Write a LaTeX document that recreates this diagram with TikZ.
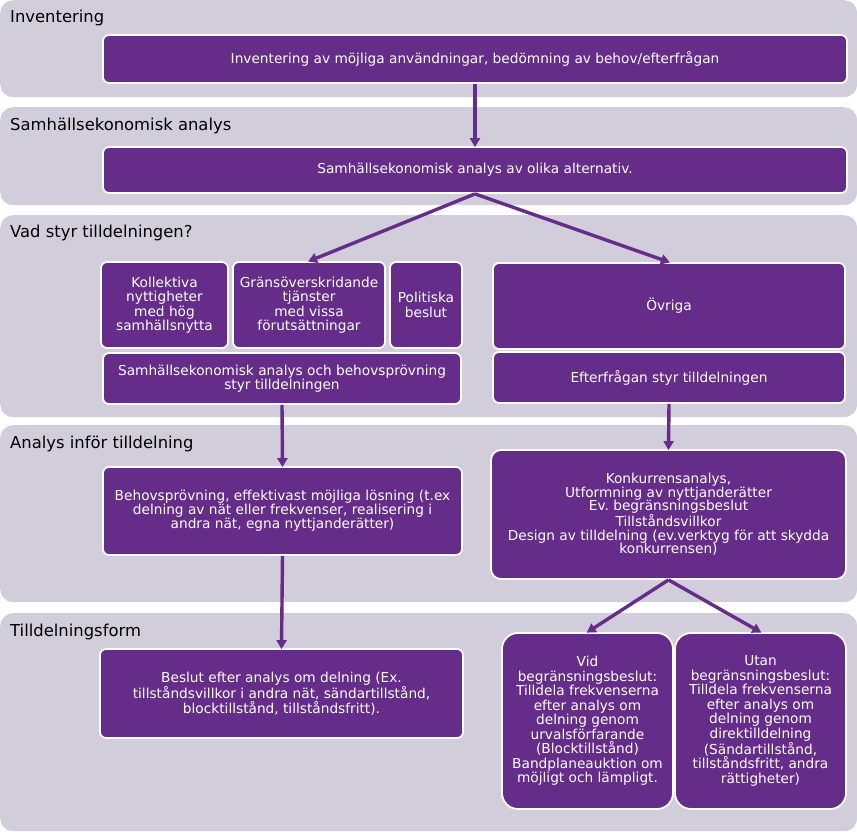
\documentclass[tikz,border=0pt]{standalone}
\usepackage{fontspec}
\setmainfont{DejaVu Sans}
\usetikzlibrary{arrows.meta}
\definecolor{pp}{RGB}{102,44,138}
\definecolor{band}{RGB}{209,205,218}
\tikzset{
  bandbox/.style={fill=band, draw=none, rounded corners=13pt, inner sep=0pt},
  btitle/.style={anchor=west, inner sep=0pt, font=\fontsize{16.4}{19}\selectfont, text=black},
  pbox/.style={fill=pp, draw=white, line width=1.8pt, rounded corners=6pt, text=white, align=center, inner sep=1pt, font=\fontsize{13.7}{14.5}\selectfont},
  arr/.style={draw=pp, line width=3.4pt, -{Triangle[length=9pt,width=10pt]}, shorten >=-1pt}
}
\begin{document}
\begin{tikzpicture}[x=1pt,y=-1pt]
\useasboundingbox (0,0) rectangle (857,832);
% bands
\node[bandbox, minimum width=857pt, minimum height=97pt, anchor=north west] (band1) at (0,0) {};
\node[bandbox, minimum width=857pt, minimum height=98pt, anchor=north west] (band2) at (0,107) {};
\node[bandbox, minimum width=857pt, minimum height=202pt, anchor=north west] (band3) at (0,215) {};
\node[bandbox, minimum width=857pt, minimum height=177pt, anchor=north west] (band4) at (0,425) {};
\node[bandbox, minimum width=857pt, minimum height=218pt, anchor=north west] (band5) at (0,613) {};
% titles
\node[btitle] (t1) at (10,18) {Inventering};
\node[btitle] (t2) at (10,126) {Samhällsekonomisk analys};
\node[btitle] (t3) at (10,233) {Vad styr tilldelningen?};
\node[btitle] (t4) at (10,444) {Analys inför tilldelning};
\node[btitle] (t5) at (10,632) {Tilldelningsform};
% boxes
\node[pbox, minimum width=744pt, minimum height=48pt] (b1) at (475,59) {Inventering av möjliga användningar, bedömning av behov/efterfrågan};
\node[pbox, minimum width=744pt, minimum height=46pt] (b2) at (475,170) {Samhällsekonomisk analys av olika alternativ.};
\node[pbox, minimum width=127pt, minimum height=86pt] (kol) at (164.5,305) {Kollektiva\\nyttigheter\\med hög\\samhällsnytta};
\node[pbox, minimum width=152pt, minimum height=86pt] (gra) at (309,305) {Gränsöverskridande\\tjänster\\med vissa\\förutsättningar};
\node[pbox, minimum width=72pt, minimum height=86pt] (pol) at (426,305) {Politiska\\beslut};
\node[pbox, minimum width=358pt, minimum height=51pt] (sab) at (282,378.5) {Samhällsekonomisk analys och behovsprövning\\styr tilldelningen};
\node[pbox, minimum width=352pt, minimum height=86pt] (ovr) at (669,306) {Övriga};
\node[pbox, minimum width=352pt, minimum height=51pt] (eft) at (669,377.5) {Efterfrågan styr tilldelningen};
\node[pbox, minimum width=359pt, minimum height=88pt, font=\fontsize{13.7}{14}\selectfont] (beh) at (282.5,511) {Behovsprövning, effektivast möjliga lösning (t.ex\\delning av nät eller frekvenser, realisering i\\andra nät, egna nyttjanderätter)};
\node[pbox, minimum width=355pt, minimum height=129pt, rounded corners=10pt, font=\fontsize{13.7}{13.6}\selectfont] (kon) at (668.5,514.5) {Konkurrensanalys,\\Utformning av nyttjanderätter\\Ev.\ begränsningsbeslut\\Tillståndsvillkor\\Design av tilldelning (ev.verktyg för att skydda\\konkurrensen)};
\node[pbox, minimum width=363pt, minimum height=89pt, font=\fontsize{13.7}{14.8}\selectfont] (bes) at (281.5,693.5) {Beslut efter analys om delning (Ex.\\tillståndsvillkor i andra nät, sändartillstånd,\\blocktillstånd, tillståndsfritt).};
\node[pbox, minimum width=171pt, minimum height=176pt, rounded corners=16pt] (vid) at (587.5,721) {Vid\\begränsningsbeslut:\\Tilldela frekvenserna\\efter analys om\\delning genom\\urvalsförfarande\\(Blocktillstånd)\\Bandplaneauktion om\\möjligt och lämpligt.};
\node[pbox, minimum width=171pt, minimum height=176pt, rounded corners=16pt] (uta) at (760.5,721) {Utan\\begränsningsbeslut:\\Tilldela frekvenserna\\efter analys om\\delning genom\\direktilldelning\\(Sändartillstånd,\\tillståndsfritt, andra\\rättigheter)};
% arrows
\draw[arr] (b1.south) -- (b2.north);
\draw[arr] (b2.south) -- (gra.north);
\draw[arr] (b2.south) -- (ovr.north);
\draw[arr] (sab.south) -- (beh.north);
\draw[arr] (beh.south) -- (bes.north);
\draw[arr] (eft.south) -- (kon.north);
\draw[arr] (kon.south) -- (vid.north);
\draw[arr] (kon.south) -- (uta.north);
\end{tikzpicture}
\end{document}
